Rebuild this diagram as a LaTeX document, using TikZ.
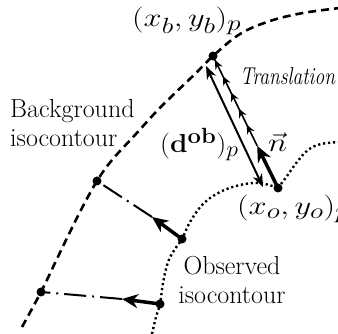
\RequirePackage{fix-cm}
\documentclass[tikz,border=0pt]{standalone}
\usepackage{amsmath}
\usepackage{graphicx}
\usetikzlibrary{arrows.meta,decorations.markings}
\DeclareMathSizes{26}{26}{22}{17}
\newcommand{\wideeq}[2][1.25]{\scalebox{#1}[1]{$#2$}}
\begin{document}
\begin{tikzpicture}[x=1pt,y=-1pt,
  bgline/.style={line width=2.6pt, dash pattern=on 8pt off 5pt},
  obsline/.style={line width=2.4pt, dash pattern=on 2.2pt off 2.8pt},
  ptdot/.style={circle, fill=black, inner sep=0pt, minimum size=9pt},
  dashdotline/.style={line width=2pt, dash pattern=on 22pt off 6pt on 2pt off 6pt},
  thickarr/.style={line width=3.5pt, -{Stealth[length=16pt,width=14pt,inset=5pt]}},
  darr/.style={line width=2pt, {Stealth[length=13pt,width=10pt,inset=4pt]}-{Stealth[length=13pt,width=10pt,inset=4pt]}},
  transl/.style={line width=1.6pt, postaction={decorate},
    decoration={markings, mark=between positions 0.235 and 0.96 step 0.18 with {\arrow{Stealth[length=9pt,width=8pt,inset=3pt]}}}},
  lab/.style={inner sep=0pt, font=\fontsize{26}{29}\selectfont},
  mlab/.style={inner sep=0pt, font=\fontsize{26}{29}\selectfont},
]
\useasboundingbox (0,0) rectangle (338,334);
% background isocontour
\draw[bgline] plot[smooth, tension=0.6] coordinates {(22,327) (41,292) (55,263) (68,236) (82,208) (97,181) (112,160) (135,135) (155,113) (172,96) (195,74) (213,56) (240,34) (270,21) (303,13) (340,8)};
% observed isocontour
\draw[obsline] plot[smooth, tension=0.6] coordinates {(152,334) (156,317) (160,304) (163,283) (168,262) (175,249) (182,239) (190,222) (203,204) (220,192) (240,185) (260,183) (278,188)};
\draw[obsline] plot[smooth, tension=0.6] coordinates {(278,188) (287,176) (297,162) (308,150) (321,144) (340,142)};
% points
\node[ptdot] (B1) at (213,56) {};
\node[ptdot] (O1) at (278,188) {};
\node[ptdot] (B2) at (97,181) {};
\node[ptdot] (O2) at (182,239) {};
\node[ptdot] (B3) at (41,292) {};
\node[ptdot] (O3) at (160,304) {};
\coordinate (N) at (257.2,145.8);
\coordinate (T2) at (152,217);
\coordinate (T3) at (122,299);
\coordinate (dA) at (263,187);
\coordinate (dB) at (206,66);
% connectors
\draw[dashdotline] (T2) -- (B2.center);
\draw[dashdotline] (T3) -- (B3.center);
\draw[thickarr] (O2.center) -- (T2);
\draw[thickarr] (O3.center) -- (T3);
\draw[transl] (N) -- (B1.center);
\draw[thickarr] (O1.center) -- (N);
\draw[darr] (dA) -- (dB);
% labels
\node[mlab, anchor=base west] (lxb) at (132,27) {\wideeq{(x_b,y_b)_p}};
\node[lab, anchor=base west, font=\fontsize{19.5}{23}\selectfont\itshape] (ltr) at (240,85) {\scalebox{1}[1.25]{Translation}};
\node[lab, anchor=base west, align=left] (lbg) at (10,147) {Background\\isocontour};
\node[mlab, anchor=base west] (ld) at (160,153) {\wideeq[1.08]{(\mathbf{d}^{\mathbf{ob}})_p}};
\node[mlab, anchor=base west] (ln) at (268,152) {\wideeq{\vec{n}}};
\node[mlab, anchor=base west] (lxo) at (237,215) {\wideeq{(x_o,y_o)_p}};
\node[lab, anchor=base, align=center] (lobs) at (232,304) {Observed\\isocontour};
\end{tikzpicture}
\end{document}
